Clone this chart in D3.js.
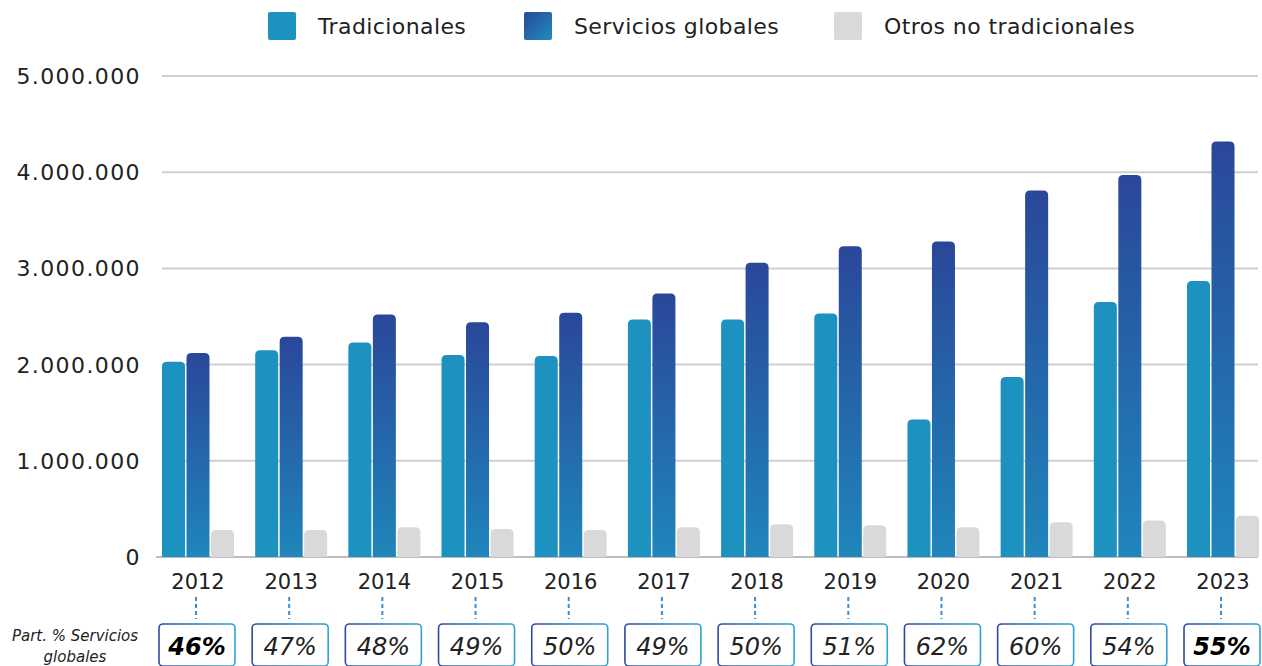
<!DOCTYPE html>
<html>
<head>
<meta charset="utf-8">
<script src="https://cdn.jsdelivr.net/npm/d3@7"></script>
<style>
  body { margin: 0; background: #fff; }
  svg { display: block; font-family: 'DejaVu Sans', sans-serif; }
</style>
</head>
<body>
<div class="container"></div>
<script>
const years = ['2012', '2013', '2014', '2015', '2016', '2017', '2018', '2019', '2020', '2021', '2022', '2023'];
const series = ['Tradicionales', 'Servicios globales', 'Otros no tradicionales'];
const tradicionales = [2030000, 2150000, 2230000, 2100000, 2090000, 2470000, 2470000, 2530000, 1430000, 1870000, 2650000, 2870000];
const servicios = [2120000, 2290000, 2520000, 2440000, 2540000, 2740000, 3060000, 3230000, 3280000, 3810000, 3970000, 4320000];
const otros = [280000, 280000, 310000, 290000, 280000, 310000, 340000, 330000, 310000, 360000, 380000, 430000];
const partServicios = [46, 47, 48, 49, 50, 49, 50, 51, 62, 60, 54, 55];
const boldYears = ['2012', '2023'];
const yTicks = [0, 1000000, 2000000, 3000000, 4000000, 5000000];

const width = 1262;
const height = 666;

const svg = d3.select('.container')
    .append('svg')
    .attr('width', width)
    .attr('height', height);

const defs = svg.append('defs');

// vertical gradient for the "Servicios globales" bars
const gServ = defs.append('linearGradient')
    .attr('id', 'gradServ')
    .attr('x1', 0).attr('y1', 0).attr('x2', 0).attr('y2', 1);
gServ.append('stop').attr('offset', '0%').attr('stop-color', '#2a4799');
gServ.append('stop').attr('offset', '100%').attr('stop-color', '#1f86bb');

// legend square for servicios: diagonal
const gLeg = defs.append('linearGradient')
    .attr('id', 'gradLeg')
    .attr('x1', 0).attr('y1', 0).attr('x2', 1).attr('y2', 1);
gLeg.append('stop').attr('offset', '0%').attr('stop-color', '#2a4799');
gLeg.append('stop').attr('offset', '100%').attr('stop-color', '#1f8ec0');

// box border gradient
const gBox = defs.append('linearGradient')
    .attr('id', 'gradBox')
    .attr('x1', 0).attr('y1', 0).attr('x2', 1).attr('y2', 0);
gBox.append('stop').attr('offset', '0%').attr('stop-color', '#2e4a9e');
gBox.append('stop').attr('offset', '100%').attr('stop-color', '#2ea3d3');

const colors = {
    'Tradicionales': '#1d91bf',
    'Servicios globales': 'url(#gradServ)',
    'Otros no tradicionales': '#d9d9d9'
};
const legendColors = {
    'Tradicionales': '#1d91bf',
    'Servicios globales': 'url(#gradLeg)',
    'Otros no tradicionales': '#d9d9d9'
};

const x = d3.scaleBand()
    .domain(years)
    .range([151.4, 1269.6]);

const xInner = d3.scaleBand()
    .domain(series)
    .range([-36, 36])
    .paddingInner(0.06);

const y = d3.scaleLinear()
    .domain([0, 5000000])
    .range([557, 76]);

const fmt = v => d3.format(',')(v).replace(/,/g, '.');

// gridlines
svg.append('g')
    .selectAll('line')
    .data(yTicks)
    .enter()
    .append('line')
    .attr('x1', d => d === 0 ? 156 : 162)
    .attr('x2', 1258)
    .attr('y1', d => y(d))
    .attr('y2', d => y(d))
    .attr('stroke', d => d === 0 ? '#bdbdbd' : '#cfcfcf')
    .attr('stroke-width', 2);

// y axis labels
svg.append('g')
    .selectAll('text')
    .data(yTicks)
    .enter()
    .append('text')
    .attr('x', 141)
    .attr('y', d => y(d))
    .attr('dy', '0.36em')
    .attr('text-anchor', 'end')
    .attr('font-size', 22)
    .attr('letter-spacing', 1.4)
    .attr('fill', '#222')
    .text(d => fmt(d));

// bars
const values = {
    'Tradicionales': tradicionales,
    'Servicios globales': servicios,
    'Otros no tradicionales': otros
};

const roundTop = (x0, y0, w, h, r) => {
    r = Math.min(r, h);
    return `M${x0},${y0 + h}V${y0 + r}Q${x0},${y0} ${x0 + r},${y0}H${x0 + w - r}Q${x0 + w},${y0} ${x0 + w},${y0 + r}V${y0 + h}Z`;
};

const groups = svg.append('g')
    .selectAll('g')
    .data(years)
    .enter()
    .append('g')
    .attr('transform', d => `translate(${x(d) + x.bandwidth() / 2},0)`);

groups.selectAll('path')
    .data((d, i) => series.map(s => ({ s, v: values[s][i] })))
    .enter()
    .append('path')
    .attr('d', d => roundTop(xInner(d.s), y(d.v), xInner.bandwidth(), y(0) - y(d.v), 5))
    .attr('fill', d => colors[d.s]);

// year labels
groups.append('text')
    .attr('y', 581)
    .attr('dy', '0.36em')
    .attr('text-anchor', 'middle')
    .attr('font-size', 21)
    .attr('fill', '#222')
    .text(d => d);

// dashed connectors
groups.append('line')
    .attr('x1', -2).attr('x2', -2)
    .attr('y1', 597).attr('y2', 619)
    .attr('stroke', '#3b8ed0')
    .attr('stroke-width', 2)
    .attr('stroke-dasharray', '4,3');

// percentage boxes
groups.append('rect')
    .attr('x', -39)
    .attr('y', 624)
    .attr('width', 76)
    .attr('height', 42)
    .attr('rx', 4)
    .attr('fill', '#fff')
    .attr('stroke', 'url(#gradBox)')
    .attr('stroke-width', 1.6);

groups.append('text')
    .attr('x', -1)
    .attr('y', 646)
    .attr('dy', '0.36em')
    .attr('text-anchor', 'middle')
    .attr('font-size', 24)
    .attr('font-style', 'italic')
    .attr('font-weight', d => boldYears.includes(d) ? 'bold' : 'normal')
    .attr('fill', d => boldYears.includes(d) ? '#000' : '#222')
    .text((d, i) => partServicios[i] + '%');

// row label
svg.append('text')
    .attr('x', 75)
    .attr('y', 636)
    .attr('dy', '0.36em')
    .attr('text-anchor', 'middle')
    .attr('font-size', 15)
    .attr('font-style', 'italic')
    .attr('fill', '#222')
    .text('Part. % Servicios');
svg.append('text')
    .attr('x', 75)
    .attr('y', 657)
    .attr('dy', '0.36em')
    .attr('text-anchor', 'middle')
    .attr('font-size', 15)
    .attr('font-style', 'italic')
    .attr('fill', '#222')
    .text('globales');

// legend
const legendX = [268, 524, 834];
const legend = svg.append('g')
    .selectAll('g')
    .data(series)
    .enter()
    .append('g')
    .attr('transform', (d, i) => `translate(${legendX[i]},12)`);

legend.append('rect')
    .attr('width', 28)
    .attr('height', 28)
    .attr('rx', 2)
    .attr('fill', d => legendColors[d]);

legend.append('text')
    .attr('x', 50)
    .attr('y', 14)
    .attr('dy', '0.36em')
    .attr('font-size', 22)
    .attr('letter-spacing', 0.4)
    .attr('fill', '#222')
    .text(d => d);
</script>
</body>
</html>
